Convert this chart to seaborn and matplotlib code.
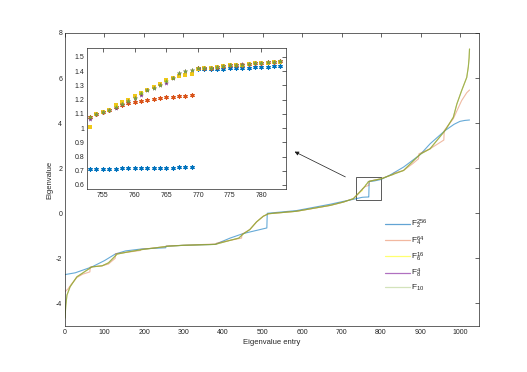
import matplotlib
matplotlib.use('Agg')
import matplotlib.pyplot as plt
import matplotlib.patches as patches
from matplotlib.lines import Line2D
from matplotlib.ticker import FuncFormatter
import pandas as pd
import seaborn as sns

# eigenvalue entries shown in the zoomed inset
inset_x = list(range(753, 784))

# inset values (753..783) for each filter
f2_inset = [0.710, 0.712, 0.713, 0.714, 0.715, 0.716, 0.717, 0.718, 0.719, 0.720, 0.720,
            0.721, 0.722, 0.722, 0.723, 0.723, 0.724,
            1.418, 1.418, 1.416, 1.416, 1.418, 1.420, 1.420, 1.422, 1.424, 1.426, 1.428,
            1.430, 1.433, 1.436]
f4_inset = [1.08, 1.10, 1.11, 1.13, 1.15, 1.165, 1.175, 1.18, 1.19, 1.197, 1.203, 1.21,
            1.215, 1.22, 1.225, 1.228, 1.232,
            1.42, 1.422, 1.425, 1.43, 1.435, 1.44, 1.442, 1.446, 1.45, 1.455, 1.458,
            1.462, 1.466, 1.47]
f6_inset = [1.01, 1.10, 1.11, 1.13, 1.16, 1.18, 1.20, 1.225, 1.25, 1.27, 1.29, 1.31,
            1.335, 1.355, 1.368, 1.372, 1.378,
            1.418, 1.42, 1.424, 1.43, 1.434, 1.44, 1.442, 1.446, 1.45, 1.455, 1.458,
            1.46, 1.464, 1.468]
f8_inset = [1.065, 1.10, 1.11, 1.125, 1.14, 1.17, 1.19, 1.21, 1.232, 1.265, 1.285, 1.30,
            1.32, 1.355, 1.385, 1.40, 1.41,
            1.42, 1.42, 1.424, 1.43, 1.434, 1.44, 1.444, 1.448, 1.452, 1.456, 1.46,
            1.462, 1.466, 1.47]
f10_inset = [1.08, 1.10, 1.11, 1.13, 1.15, 1.17, 1.19, 1.21, 1.245, 1.265, 1.28, 1.30,
             1.33, 1.355, 1.39, 1.40, 1.41,
             1.42, 1.42, 1.424, 1.43, 1.434, 1.44, 1.442, 1.446, 1.45, 1.455, 1.458,
             1.462, 1.466, 1.47]

# main curve (below / above the inset range)
f2_lo_x = [0, 26, 68, 100, 127, 153, 195, 255, 256, 300, 380, 418, 451, 511, 512,
           586, 671, 705, 730, 750]
f2_lo_y = [-2.72, -2.64, -2.38, -2.1, -1.81, -1.67, -1.58, -1.53, -1.46, -1.42, -1.38,
           -1.1, -0.9, -0.65, 0.0, 0.12, 0.4, 0.53, 0.62, 0.70]
f2_hi_x = [800, 823, 857, 899, 924, 962, 985, 1000, 1012, 1024]
f2_hi_y = [1.5, 1.7, 2.05, 2.6, 3.08, 3.67, 3.95, 4.08, 4.12, 4.14]

f4_lo_x = [0, 8, 16, 30, 45, 63, 64, 94, 110, 127, 128, 161, 191, 192, 230, 255, 256,
           300, 383, 384, 418, 447, 448, 468, 485, 502, 515, 586, 671, 705, 730, 745]
f4_lo_y = [-3.48, -3.35, -3.15, -2.85, -2.7, -2.6, -2.38, -2.33, -2.25, -2.0, -1.79,
           -1.72, -1.65, -1.6, -1.53, -1.48, -1.45, -1.42, -1.36, -1.32, -1.2, -1.1,
           -0.93, -0.72, -0.38, -0.13, -0.02, 0.09, 0.35, 0.5, 0.65, 0.92]
f4_hi_x = [800, 823, 831, 832, 857, 880, 895, 896, 924, 959, 960, 983, 1004, 1017, 1024]
f4_hi_y = [1.53, 1.68, 1.72, 1.78, 1.9, 2.2, 2.42, 2.64, 2.86, 3.25, 3.67, 4.2, 5.0,
           5.35, 5.47]

# F6, F8 and F10 lie on top of each other outside the inset
fine_lo_x = [0, 2, 5, 13, 30, 43, 68, 94, 110, 132, 161, 195, 230, 262, 300, 380, 418,
             440, 451, 468, 485, 502, 515, 586, 671, 705, 730, 745]
fine_lo_y = [-4.65, -4.1, -3.63, -3.26, -2.82, -2.67, -2.38, -2.33, -2.2, -1.81, -1.71,
             -1.61, -1.53, -1.46, -1.42, -1.38, -1.2, -1.1, -0.92, -0.72, -0.38, -0.13,
             -0.02, 0.09, 0.35, 0.5, 0.65, 0.92]
fine_hi_x = [800, 823, 857, 899, 924, 962, 983, 992, 1004, 1017, 1021, 1023, 1024]
fine_hi_y = [1.53, 1.68, 1.9, 2.62, 2.86, 3.67, 4.26, 4.85, 5.44, 6.03, 6.5, 6.9, 7.29]

labels = ['F$_2^{256}$', 'F$_4^{64}$', 'F$_6^{16}$', 'F$_8^{4}$', 'F$_{10}$']
line_colors = ['#0072BD', '#D95319', '#FFFF00', '#7E2F8E', '#77AC30']
line_alpha = [0.6, 0.4, 0.5, 0.3, 0.6]
legend_colors = ['#62a4d4', '#f2b8a0', '#ffff70', '#b070c0', '#d3e3bb']
dot_colors = ['#0072BD', '#D95319', '#F0C818', '#7E2F8E', '#77AC30']

series = [
    (f2_lo_x, f2_lo_y, f2_inset, f2_hi_x, f2_hi_y),
    (f4_lo_x, f4_lo_y, f4_inset, f4_hi_x, f4_hi_y),
    (fine_lo_x, fine_lo_y, f6_inset, fine_hi_x, fine_hi_y),
    (fine_lo_x, fine_lo_y, f8_inset, fine_hi_x, fine_hi_y),
    (fine_lo_x, fine_lo_y, f10_inset, fine_hi_x, fine_hi_y),
]

sns.set_theme(style='white')
plt.rcParams['font.family'] = ['Liberation Sans', 'DejaVu Sans']
plt.rcParams['mathtext.default'] = 'regular'
plt.rcParams['axes.unicode_minus'] = False
plt.rcParams['xtick.direction'] = 'in'
plt.rcParams['ytick.direction'] = 'in'

fig = plt.figure(figsize=(5.27, 3.72), dpi=100)
ax = fig.add_axes([0.1233, 0.1237, 0.7856, 0.7876])

for (lx, ly, mid, hx, hy), c, a in zip(series, line_colors, line_alpha):
    df = pd.DataFrame({'entry': lx + inset_x + hx, 'value': ly + mid + hy})
    sns.lineplot(data=df, x='entry', y='value', ax=ax, color=c, alpha=a, lw=0.8,
                 sort=False)

ax.set_xlim(0, 1048)
ax.set_ylim(-5, 8)
ax.set_xticks([0, 100, 200, 300, 400, 500, 600, 700, 800, 900, 1000])
ax.set_yticks([-4, -2, 0, 2, 4, 6, 8])
ax.set_xlabel('Eigenvalue entry', fontsize=5.5, color='#262626', labelpad=2)
ax.set_ylabel('Eigenvalue', fontsize=5.5, color='#262626', labelpad=2)
ax.tick_params(labelsize=5, colors='#262626', length=3, width=0.5, top=True, right=True,
               pad=2)
for s in ax.spines.values():
    s.set_linewidth(0.5)
    s.set_color('#262626')

ax.add_patch(patches.Rectangle((737, 0.58), 63, 1.02, fill=False, edgecolor='#404040',
                               lw=0.6))
ax.annotate('', xy=(575, 2.79), xytext=(716, 1.56),
            arrowprops=dict(arrowstyle='-|>', color='k', lw=0.5, mutation_scale=6))

handles = [Line2D([], [], color=c, lw=0.9) for c in legend_colors]
ax.legend(handles, labels, loc='upper left', bbox_to_anchor=(0.765, 0.38), frameon=False,
          fontsize=6, handlelength=3.0, labelspacing=0.36, handletextpad=0.15,
          borderaxespad=0)

# inset
ins = fig.add_axes([0.165, 0.492, 0.378, 0.379])
markers = [(6, 2, 0), (6, 2, 0), 's', '*', '*']
sizes = [6, 6, 7, 14, 14]
for mid, c, m, sz in zip([f2_inset, f4_inset, f6_inset, f8_inset, f10_inset],
                         dot_colors, markers, sizes):
    lw = 0.9 if isinstance(m, tuple) else 0
    sns.scatterplot(x=inset_x, y=mid, ax=ins, color=c, marker=m, s=sz,
                    edgecolor=c, linewidth=lw)

ins.set_xlim(752.5, 783.9)
ins.set_ylim(0.572, 1.563)
ins.set_xticks([755, 760, 765, 770, 775, 780])
ins.set_yticks([0.6, 0.7, 0.8, 0.9, 1.0, 1.1, 1.2, 1.3, 1.4, 1.5])
ins.yaxis.set_major_formatter(FuncFormatter(lambda v, p: '%g' % round(v, 2)))
ins.tick_params(labelsize=5, colors='#262626', length=3, width=0.5, top=True, right=True,
                pad=2)
for s in ins.spines.values():
    s.set_linewidth(0.5)
    s.set_color('#262626')

fig.savefig('out.png', dpi=100)
